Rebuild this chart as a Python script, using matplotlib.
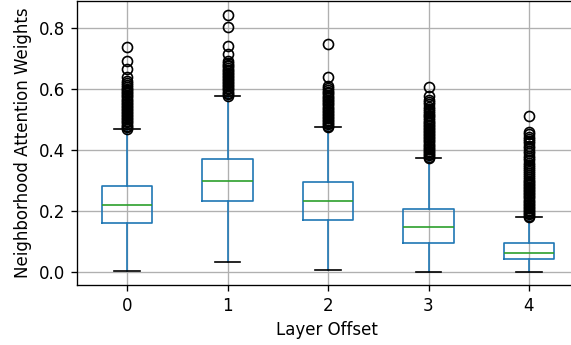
import matplotlib
matplotlib.use("Agg")
import matplotlib.pyplot as plt

# Layer offsets (categories) and box statistics
offsets = ['0', '1', '2', '3', '4']
medians = [0.222, 0.298, 0.234, 0.147, 0.063]
q1s = [0.163, 0.232, 0.173, 0.095, 0.044]
q3s = [0.284, 0.372, 0.294, 0.206, 0.097]
whis_lo = [0.004, 0.033, 0.007, 0.001, 0.003]
whis_hi = [0.470, 0.578, 0.474, 0.373, 0.180]

# Outliers (dense columns typed as sampled values)
fliers_0 = [0.470, 0.475, 0.480, 0.485, 0.490, 0.495, 0.500, 0.505, 0.510, 0.515,
            0.520, 0.525, 0.530, 0.535, 0.540, 0.545, 0.550, 0.555, 0.560, 0.565,
            0.570, 0.575, 0.580, 0.585, 0.590, 0.595, 0.600, 0.606, 0.612, 0.618,
            0.625, 0.638, 0.665, 0.692, 0.738]
fliers_1 = [0.578, 0.583, 0.588, 0.593, 0.598, 0.603, 0.608, 0.613, 0.618, 0.623,
            0.628, 0.633, 0.638, 0.643, 0.648, 0.653, 0.658, 0.663, 0.668, 0.673,
            0.678, 0.684, 0.690, 0.714, 0.739, 0.801, 0.842]
fliers_2 = [0.474, 0.479, 0.484, 0.489, 0.494, 0.499, 0.504, 0.509, 0.514, 0.519,
            0.524, 0.529, 0.534, 0.539, 0.544, 0.549, 0.554, 0.559, 0.564, 0.569,
            0.574, 0.579, 0.585, 0.591, 0.597, 0.604, 0.610, 0.638, 0.746]
fliers_3 = [0.373, 0.378, 0.383, 0.388, 0.393, 0.398, 0.403, 0.408, 0.413, 0.418,
            0.423, 0.428, 0.433, 0.438, 0.443, 0.448, 0.453, 0.458, 0.463, 0.468,
            0.473, 0.478, 0.483, 0.488, 0.493, 0.498, 0.504, 0.510, 0.516, 0.522,
            0.528, 0.535, 0.542, 0.549, 0.556, 0.563, 0.578, 0.605]
fliers_4 = [0.180, 0.185, 0.190, 0.195, 0.200, 0.205, 0.210, 0.215, 0.220, 0.225,
            0.230, 0.235, 0.240, 0.245, 0.250, 0.255, 0.260, 0.265, 0.270, 0.275,
            0.280, 0.285, 0.290, 0.295, 0.300, 0.306, 0.312, 0.318, 0.324, 0.330,
            0.337, 0.344, 0.351, 0.358, 0.366, 0.374, 0.382, 0.390, 0.398, 0.406,
            0.414, 0.422, 0.430, 0.437, 0.444, 0.451, 0.458, 0.510]
fliers = [fliers_0, fliers_1, fliers_2, fliers_3, fliers_4]

stats = []
for i in range(len(offsets)):
    stats.append(dict(med=medians[i], q1=q1s[i], q3=q3s[i],
                      whislo=whis_lo[i], whishi=whis_hi[i],
                      fliers=fliers[i], label=offsets[i]))

dpi = 120
fig = plt.figure(figsize=(571 / dpi, 345 / dpi), dpi=dpi)
# axes runs off the right edge of the picture in the reference
ax = fig.add_axes([76.75 / 571, 60 / 345, 1 - 76.75 / 571, 284 / 345])

ax.bxp(stats, positions=range(1, 6), widths=0.5,
       boxprops=dict(color='#1f77b4'),
       whiskerprops=dict(color='#1f77b4'),
       capprops=dict(color='black'),
       medianprops=dict(color='#2ca02c'),
       flierprops=dict(marker='o', markerfacecolor='none', markeredgecolor='black'))

ax.set_xlim(0.5, 0.5 + (571 - 76.75) / 100.5)
ax.set_ylim(-0.041, 0.887)
ax.set_yticks([0.0, 0.2, 0.4, 0.6, 0.8])
ax.spines['right'].set_visible(False)
ax.grid(True)
ax.set_axisbelow(True)
ax.set_xlabel('Layer Offset', x=(327 - 76.75) / (571 - 76.75))
ax.set_ylabel('Neighborhood Attention Weights')

fig.savefig('out.png', dpi=dpi)
